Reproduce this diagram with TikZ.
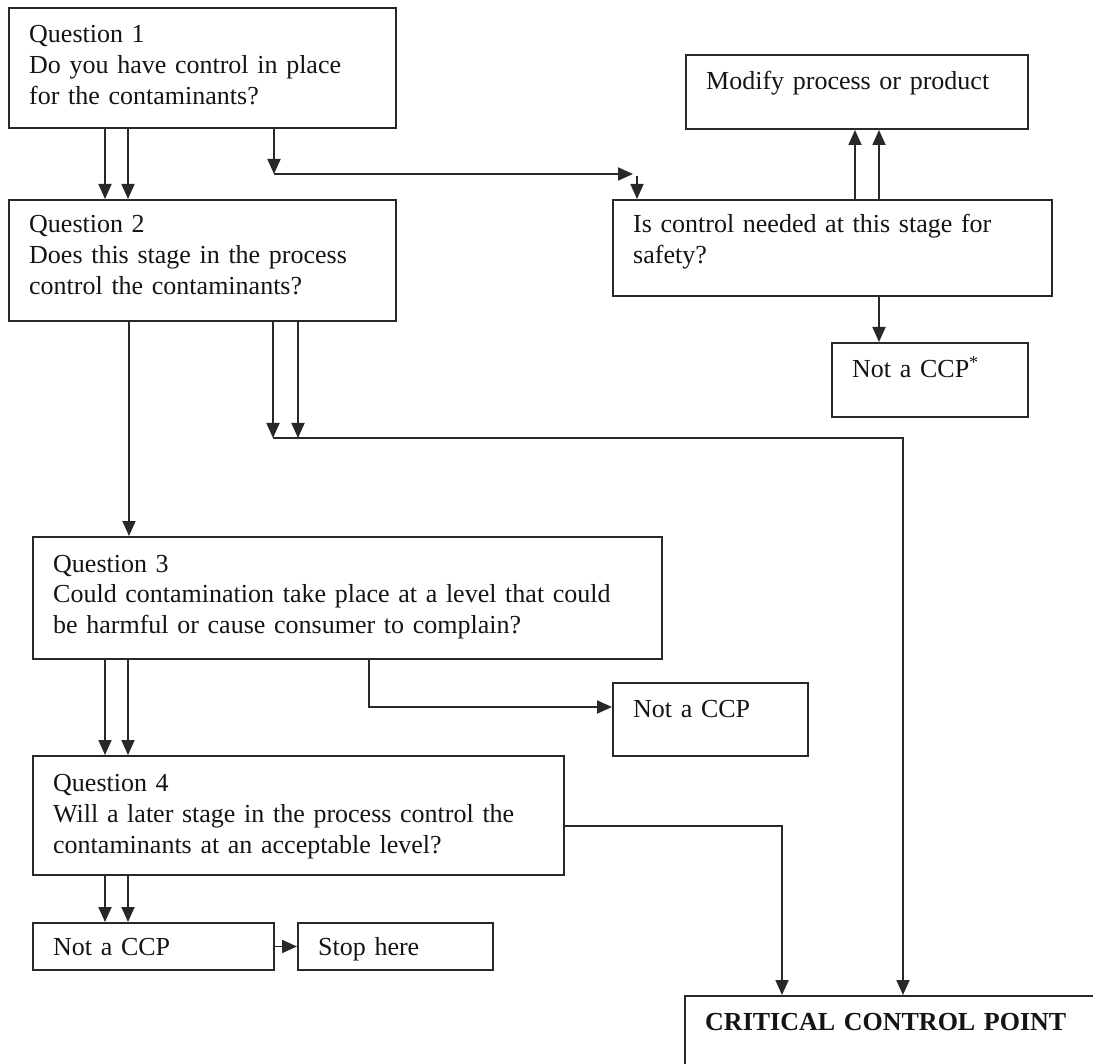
\documentclass[tikz,border=0pt]{standalone}
\usepackage{fontspec}
\setmainfont{Liberation Serif}
\usetikzlibrary{arrows.meta}
\definecolor{ink}{RGB}{40,40,40}
\begin{document}
\begin{tikzpicture}[x=1pt,y=-1pt,
  box/.style={draw=ink, line width=2pt, rectangle, inner sep=0pt, anchor=north west},
  txt/.style={anchor=base west, inner sep=0pt, align=left, text=black!92,
              font=\fontsize{26}{31}\selectfont},
  arr/.style={draw=ink, line width=1.8pt, -{Triangle[length=15pt,width=13pt]}}]
\useasboundingbox (0,0) rectangle (1093,1064);
\fill[white] (0,0) rectangle (1093,1064);
\clip (0,0) rectangle (1093,1064);

% boxes
\node[box, minimum width=387pt, minimum height=120pt] (q1) at (8,7) {};
\node[box, minimum width=387pt, minimum height=121pt] (q2) at (8,199) {};
\node[box, minimum width=342pt, minimum height=74pt] (mod) at (685,54) {};
\node[box, minimum width=439pt, minimum height=96pt] (saf) at (612,199) {};
\node[box, minimum width=196pt, minimum height=74pt] (ncs) at (831,342) {};
\node[box, minimum width=629pt, minimum height=122pt] (q3) at (32,536) {};
\node[box, minimum width=195pt, minimum height=73pt] (ncm) at (612,682) {};
\node[box, minimum width=531pt, minimum height=119pt] (q4) at (32,755) {};
\node[box, minimum width=241pt, minimum height=47pt] (ncb) at (32,922) {};
\node[box, minimum width=195pt, minimum height=47pt] (stop) at (297,922) {};
\node[box, minimum width=460pt, minimum height=120pt] (ccp) at (684,995) {};

% texts
\node[txt, text width=360pt] (q1t) at (29,43) {Question 1\\Do you have control in place\\for the contaminants?};
\node[txt, text width=360pt] (q2t) at (29,233) {Question 2\\Does this stage in the process\\control the contaminants?};
\node[txt, text width=315pt] (modt) at (706,90) {Modify process or product};
\node[txt, text width=410pt] (saft) at (633,233) {Is control needed at this stage for\\safety?};
\node[txt, text width=170pt] (ncst) at (852,378) {Not a CCP\textsuperscript{*}};
\node[txt, text width=600pt] (q3t) at (53,572) {Question 3\\Could contamination take place at a level that could\\be harmful or cause consumer to complain?};
\node[txt, text width=170pt] (ncmt) at (633,717) {Not a CCP};
\node[txt, text width=505pt] (q4t) at (53,791) {Question 4\\Will a later stage in the process control the\\contaminants at an acceptable level?};
\node[txt, text width=215pt] (ncbt) at (53,955) {Not a CCP};
\node[txt, text width=170pt] (stopt) at (318,955) {Stop here};
\node[txt, text width=380pt] (ccpt) at (705,1030) {\bfseries CRITICAL CONTROL POINT};

% helper coordinates
\coordinate (xa) at (105,0);
\coordinate (xb) at (128,0);
\coordinate (xc) at (129,0);
\coordinate (xd) at (855,0);
\coordinate (xe) at (879,0);
\coordinate (xf) at (637,0);
\coordinate (c1) at (274,174);
\coordinate (c2) at (633,174);
\coordinate (j1) at (273,438);
\coordinate (j2) at (298,438);
\coordinate (j3) at (903,438);
\coordinate (m) at (369,707);
\coordinate (k) at (782,826);

% connectors
\draw[arr] (q1.south -| xa) -- (q2.north -| xa);
\draw[arr] (q1.south -| xb) -- (q2.north -| xb);
\draw[arr] (q1.south -| c1) -- (c1);
\draw[arr] (c1) -- (c2);
\draw[arr] ([yshift=-2pt]c2 -| xf) -- (saf.north -| xf);
\draw[arr] (saf.north -| xd) -- (mod.south -| xd);
\draw[arr] (saf.north -| xe) -- (mod.south -| xe);
\draw[arr] (saf.south -| xe) -- (ncs.north -| xe);
\draw[arr] (q2.south -| j1) -- (j1);
\draw[arr] (q2.south -| j2) -- (j2);
\draw[arr] (j1) -- (j3) -- (j3 |- ccp.north);
\draw[arr] (q2.south -| xc) -- (q3.north -| xc);
\draw[arr] (q3.south -| xa) -- (q4.north -| xa);
\draw[arr] (q3.south -| xb) -- (q4.north -| xb);
\draw[arr] (q3.south -| m) -- (m) -- (m -| ncm.west);
\draw[arr] (q4.east |- k) -- (k) -- (k |- ccp.north);
\draw[arr] (q4.south -| xa) -- (ncb.north -| xa);
\draw[arr] (q4.south -| xb) -- (ncb.north -| xb);
\draw[arr] (ncb.east) -- (stop.west);
\end{tikzpicture}
\end{document}
